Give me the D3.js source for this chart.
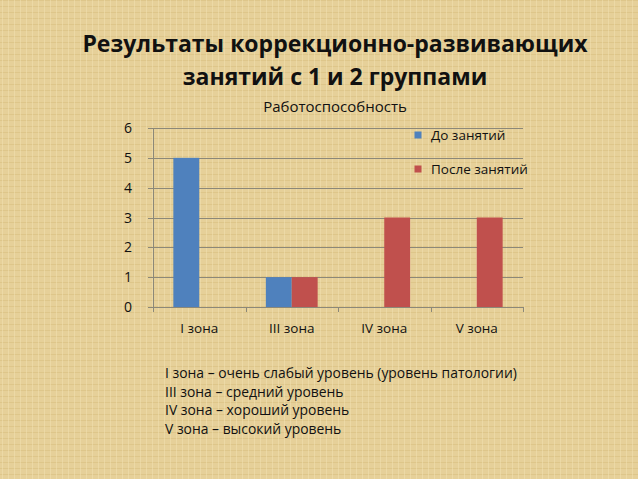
<!DOCTYPE html>
<html><head><meta charset="utf-8">
<script src="https://cdn.jsdelivr.net/npm/d3@7"></script>
<style>html,body{margin:0;padding:0;background:#e5cf97;}svg{display:block;}</style>
</head><body>
<svg id="c" width="638" height="479"></svg>
<script>
const categories = ["I зона", "III зона", "IV зона", "V зона"];
const seriesNames = ["До занятий", "После занятий"];
const before = [5, 1, 0, 0];
const after = [0, 1, 3, 3];
const yTicks = [0, 1, 2, 3, 4, 5, 6];
const titleLines = ["Результаты коррекционно-развивающих", "занятий с 1 и 2 группами"];
const chartTitle = "Работоспособность";
const notes = ["I зона – очень слабый уровень (уровень патологии)", "III зона – средний уровень", "IV зона – хороший уровень", "V зона – высокий уровень"];
const colors = ["#4f81bd", "#c0504d"];

const svg = d3.select("#c");
const W = 638, H = 479;
const font = "'Open Sans', 'Noto Sans', sans-serif";

// parchment background
const defs = svg.append("defs");
const pat = defs.append("pattern").attr("id", "tex").attr("width", 6).attr("height", 6).attr("patternUnits", "userSpaceOnUse");
pat.append("rect").attr("width", 6).attr("height", 6).attr("fill", "#e6d099");
pat.append("line").attr("x1", 0).attr("y1", 0.5).attr("x2", 6).attr("y2", 0.5).attr("stroke", "#d6bc7c").attr("stroke-width", 1).attr("opacity", 0.5);
pat.append("line").attr("x1", 2.5).attr("y1", 0).attr("x2", 2.5).attr("y2", 6).attr("stroke", "#f1e2b4").attr("stroke-width", 1).attr("opacity", 0.5);
svg.append("rect").attr("width", W).attr("height", H).attr("fill", "url(#tex)");

// title
svg.append("g").selectAll("text").data(titleLines).join("text")
  .attr("x", 335).attr("y", (d, i) => 52 + i * 33)
  .attr("text-anchor", "middle").attr("font-family", font).attr("font-weight", "bold")
  .attr("font-size", 23).attr("fill", "#111").text(d => d);

svg.append("text").attr("x", 335).attr("y", 112).attr("text-anchor", "middle")
  .attr("font-family", font).attr("font-size", 15).attr("fill", "#111").text(chartTitle);

const plot = {left: 153, right: 523, top: 128, bottom: 307};
const x = d3.scaleBand().domain(categories).range([plot.left, plot.right]).paddingInner(0.44).paddingOuter(0.22);
const xs = d3.scaleBand().domain(seriesNames).range([0, x.bandwidth()]);
const y = d3.scaleLinear().domain([0, 6]).range([plot.bottom, plot.top]);

// gridlines
svg.append("g").selectAll("line").data(yTicks).join("line")
  .attr("x1", plot.left - 5).attr("x2", plot.right)
  .attr("y1", d => Math.round(y(d)) + 0.5).attr("y2", d => Math.round(y(d)) + 0.5)
  .attr("stroke", "#8c8878").attr("stroke-width", 1);

// y axis line
svg.append("line").attr("x1", plot.left + 0.5).attr("x2", plot.left + 0.5)
  .attr("y1", plot.top).attr("y2", plot.bottom).attr("stroke", "#8c8878");

// category ticks
const step = (plot.right - plot.left) / categories.length;
svg.append("g").selectAll("line").data(d3.range(categories.length + 1)).join("line")
  .attr("x1", i => Math.round(plot.left + i * step) + 0.5).attr("x2", i => Math.round(plot.left + i * step) + 0.5)
  .attr("y1", y(0)).attr("y2", y(0) + 5).attr("stroke", "#8c8878");

// y labels
svg.append("g").selectAll("text").data(yTicks).join("text")
  .attr("x", 132).attr("y", d => y(d) + 5).attr("text-anchor", "end")
  .attr("font-family", font).attr("font-size", 14).attr("fill", "#111").text(d => d);

// bars
const rows = categories.map((c, i) => ({c, vals: [before[i], after[i]]}));
const g = svg.append("g");
rows.forEach(r => {
  r.vals.forEach((v, j) => {
    if (v <= 0) return;
    g.append("rect").attr("x", x(r.c) + xs(seriesNames[j])).attr("width", xs.bandwidth())
      .attr("y", y(v)).attr("height", y(0) - y(v)).attr("fill", colors[j]);
  });
});

// x labels
svg.append("g").selectAll("text").data(categories).join("text")
  .attr("x", d => x(d) + x.bandwidth() / 2).attr("y", 333).attr("text-anchor", "middle")
  .attr("font-family", font).attr("font-size", 13.5).attr("fill", "#111").text(d => d);

// legend
const lg = svg.append("g").selectAll("g").data(seriesNames).join("g")
  .attr("transform", (d, i) => `translate(418, ${135 + i * 34})`);
lg.append("rect").attr("x", -3.5).attr("y", -3.5).attr("width", 7).attr("height", 7).attr("fill", (d, i) => colors[i]);
lg.append("text").attr("x", 13).attr("y", 5).attr("font-family", font).attr("font-size", 13.5).attr("fill", "#111").text(d => d);

// notes
svg.append("g").selectAll("text").data(notes).join("text")
  .attr("x", 165).attr("y", (d, i) => 378 + i * 18.7)
  .attr("font-family", font).attr("font-size", 13.9).attr("fill", "#111").text(d => d);
</script>
</body></html>
